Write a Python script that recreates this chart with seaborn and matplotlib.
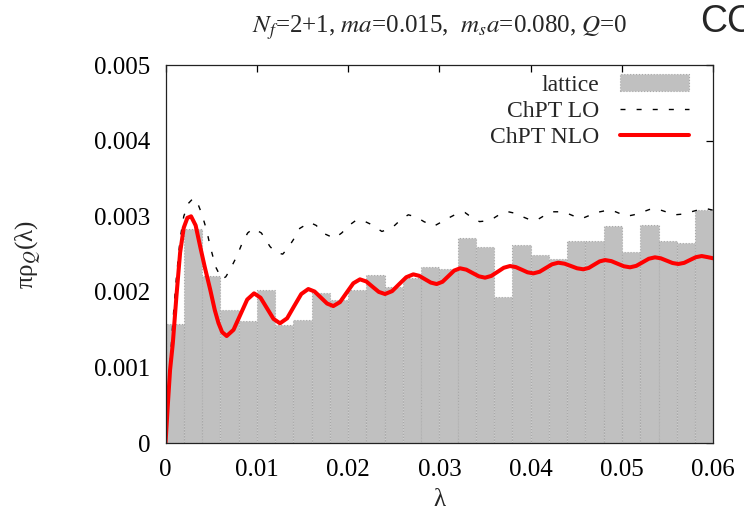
import numpy as np
import pandas as pd
import matplotlib
matplotlib.use("Agg")
import matplotlib.pyplot as plt
from matplotlib.patches import Patch
from matplotlib.lines import Line2D
import seaborn as sns

# ---------------- data ----------------
# lattice histogram: bin width 0.002 in lambda, 30 bins over [0, 0.06]
lattice_heights = [0.00158, 0.00283, 0.00221, 0.00176, 0.00161, 0.00203, 0.00157, 0.00163,
                   0.00199, 0.00190, 0.00203, 0.00223, 0.00207, 0.00219, 0.00233, 0.00230,
                   0.00272, 0.00260, 0.00193, 0.00262, 0.00249, 0.00243, 0.00268, 0.00267,
                   0.00287, 0.00253, 0.00289, 0.00268, 0.00265, 0.00309]

# ChPT LO curve (lambda, value)
lo_lam = [0.0, 0.0004, 0.0008, 0.0012, 0.0016, 0.0020, 0.0025, 0.00305, 0.0035, 0.00395,
          0.0045, 0.0049, 0.0055, 0.00616, 0.0066, 0.00705, 0.0078, 0.00845, 0.0090, 0.00962,
          0.0105, 0.01145, 0.0121, 0.01284, 0.0134, 0.0140, 0.0147, 0.0158, 0.0165, 0.0174,
          0.0185, 0.0193, 0.0201, 0.0209, 0.0217, 0.0224, 0.0237, 0.0244, 0.0251, 0.0259,
          0.0266, 0.0275, 0.0283, 0.0294, 0.0303, 0.0312, 0.0320, 0.0328, 0.0336, 0.0344,
          0.0352, 0.0360, 0.0368, 0.03755, 0.0383, 0.0390, 0.0398, 0.04066, 0.0415, 0.0424,
          0.0433, 0.0440, 0.0448, 0.0456, 0.0464, 0.0472, 0.0480, 0.0489, 0.0497, 0.0505,
          0.0513, 0.0521, 0.0530, 0.0538, 0.0548, 0.0558, 0.0567, 0.0576, 0.0585, 0.0593,
          0.0600]
lo_val = [0.0, 0.00085, 0.00160, 0.00220, 0.00270, 0.00300, 0.00317, 0.00324, 0.00318, 0.00304,
          0.00282, 0.00260, 0.00233, 0.00217, 0.00220, 0.00229, 0.00247, 0.00266, 0.00278, 0.00284,
          0.00278, 0.00260, 0.00252, 0.00250, 0.00258, 0.00269, 0.00284, 0.00292, 0.00288, 0.00277,
          0.00271, 0.00278, 0.00288, 0.00295, 0.00294, 0.00290, 0.00280, 0.00283, 0.00288, 0.00297,
          0.00302, 0.00299, 0.00293, 0.00287, 0.00293, 0.00299, 0.00304, 0.00305, 0.00298, 0.00293,
          0.00294, 0.00298, 0.00304, 0.00306, 0.00304, 0.00300, 0.00296, 0.00295, 0.00301, 0.00306,
          0.00306, 0.00304, 0.00300, 0.00297, 0.00301, 0.00305, 0.00307, 0.00308, 0.00304, 0.00300,
          0.00302, 0.00305, 0.00309, 0.00310, 0.00306, 0.00302, 0.00303, 0.00306, 0.00309, 0.00310,
          0.00308]

# ChPT NLO curve (lambda, value)
nlo_lam = [0.0, 0.00025, 0.0005, 0.0008, 0.0012, 0.0016, 0.0020, 0.0024, 0.0028, 0.0033,
           0.0038, 0.0043, 0.0049, 0.0054, 0.0058, 0.0062, 0.0067, 0.00745, 0.0082, 0.00895,
           0.0097, 0.01041, 0.01112, 0.01183, 0.01254, 0.01332, 0.01409, 0.01487, 0.01564, 0.01633,
           0.01701, 0.01770, 0.01838, 0.01911, 0.01984, 0.02057, 0.0213, 0.02199, 0.02267, 0.02336,
           0.02404, 0.02482, 0.02559, 0.02637, 0.02714, 0.02778, 0.02842, 0.02906, 0.0297, 0.03034,
           0.03098, 0.03162, 0.03226, 0.03295, 0.03363, 0.03432, 0.0350, 0.03568, 0.03637, 0.03705,
           0.03773, 0.03837, 0.03901, 0.03965, 0.04029, 0.04097, 0.04166, 0.04234, 0.04302, 0.04371,
           0.04439, 0.04508, 0.04576, 0.04636, 0.04695, 0.04755, 0.04814, 0.04883, 0.04951, 0.05020,
           0.05088, 0.05156, 0.05225, 0.05293, 0.05361, 0.05425, 0.05489, 0.05553, 0.05617, 0.05681,
           0.05745, 0.05809, 0.05873, 0.0594, 0.0600]
nlo_val = [0.0, 0.00050, 0.00097, 0.00132, 0.00195, 0.00252, 0.00285, 0.00298, 0.00300, 0.00288,
           0.00260, 0.00233, 0.00203, 0.00176, 0.00159, 0.00147, 0.001418, 0.00150, 0.00170, 0.00190,
           0.001982, 0.001924, 0.001784, 0.001644, 0.001586, 0.001652, 0.001813, 0.001973, 0.002039, 0.002006,
           0.001927, 0.001847, 0.001814, 0.001866, 0.001991, 0.002115, 0.002167, 0.002139, 0.002070, 0.002001,
           0.001973, 0.002011, 0.002103, 0.002195, 0.002233, 0.002214, 0.002169, 0.002124, 0.002105, 0.002135,
           0.002209, 0.002283, 0.002313, 0.002295, 0.002251, 0.002207, 0.002189, 0.002212, 0.002266, 0.002320,
           0.002343, 0.002329, 0.002295, 0.002260, 0.002246, 0.002267, 0.002317, 0.002366, 0.002387, 0.002374,
           0.002344, 0.002313, 0.002300, 0.002318, 0.002361, 0.002404, 0.002422, 0.002408, 0.002374, 0.002340,
           0.002326, 0.002345, 0.002392, 0.002439, 0.002458, 0.002445, 0.002414, 0.002383, 0.002370, 0.002385,
           0.002423, 0.002460, 0.002475, 0.002460, 0.002445]

x_ticks = [0.0, 0.01, 0.02, 0.03, 0.04, 0.05, 0.06]
x_tick_labels = ["0", "0.01", "0.02", "0.03", "0.04", "0.05", "0.06"]
y_ticks = [0.0, 0.001, 0.002, 0.003, 0.004, 0.005]
y_tick_labels = ["0", "0.001", "0.002", "0.003", "0.004", "0.005"]
legend_labels = ["lattice", "ChPT LO", "ChPT NLO"]
title_text = r"$N_f$=2+1, $ma$=0.015,  $m_s a$=0.080, $Q$=0"

# ---------------- style ----------------
sns.set_style("white")
plt.rcParams["font.family"] = ["Liberation Serif", "DejaVu Serif"]
plt.rcParams["mathtext.fontset"] = "stix"

W, H = 744, 518
fig = plt.figure(figsize=(W / 100, H / 100), dpi=100)
ax = fig.add_axes([165.5 / W, 1 - 443.3 / H, (713.3 - 165.5) / W, (443.3 - 65) / H])

n_bins = len(lattice_heights)
edges = np.linspace(x_ticks[0], x_ticks[-1], n_bins + 1)
centers = 0.5 * (edges[:-1] + edges[1:])
df_lat = pd.DataFrame({"lam": centers, "h": lattice_heights})

bar_color = "#c0c0c0"
sns.barplot(data=df_lat, x="lam", y="h", native_scale=True, width=1.0,
            errorbar=None, color=bar_color, saturation=1.0,
            edgecolor="#a8a8a8", linewidth=0.8, linestyle=":", ax=ax)

lo_style = (0, (3.6, 8))
sns.lineplot(x=lo_lam, y=lo_val, color="black", lw=1.0, linestyle=lo_style,
             sort=False, estimator=None, ax=ax)
sns.lineplot(x=nlo_lam, y=nlo_val, color="#ff0000", lw=2.9,
             sort=False, estimator=None, ax=ax)

ax.set_xlim(x_ticks[0], x_ticks[-1])
ax.set_ylim(y_ticks[0], y_ticks[-1])
ax.set_xticks(x_ticks)
ax.set_xticklabels(x_tick_labels)
ax.set_yticks(y_ticks)
ax.set_yticklabels(y_tick_labels)
ax.tick_params(direction="in", length=5, width=0.9, top=True, right=True,
               labelsize=18, pad=11, colors="black")
for s in ax.spines.values():
    s.set_color("#222222")
    s.set_linewidth(0.9)

ax.set_xlabel("λ", fontsize=18, labelpad=6)
ax.set_ylabel(r"πρ$_{Q}$(λ)", fontsize=18, labelpad=36)
ax.grid(False)

handles = [Patch(facecolor=bar_color, edgecolor="#a8a8a8", linestyle=":", linewidth=0.8),
           Line2D([0], [0], color="black", lw=1.0, linestyle=lo_style),
           Line2D([0], [0], color="#ff0000", lw=2.9)]
ax.legend(handles, legend_labels, loc="upper right", frameon=False, markerfirst=False,
          fontsize=17, labelspacing=0.2, handlelength=2.95, handletextpad=0.85,
          bbox_to_anchor=(1 - 24 / (713.3 - 165.5), 1 - 9 / (443.3 - 65)),
          borderaxespad=0.0, borderpad=0.0)

fig.text(439.4 / W, 1 - 33 / H, title_text, ha="center", va="baseline", fontsize=18)
fig.text(700 / W, 1 - 32 / H, "CC", ha="left", va="baseline", fontsize=27,
         family=["Liberation Sans", "DejaVu Sans"])

fig.savefig("out.png", dpi=100)
